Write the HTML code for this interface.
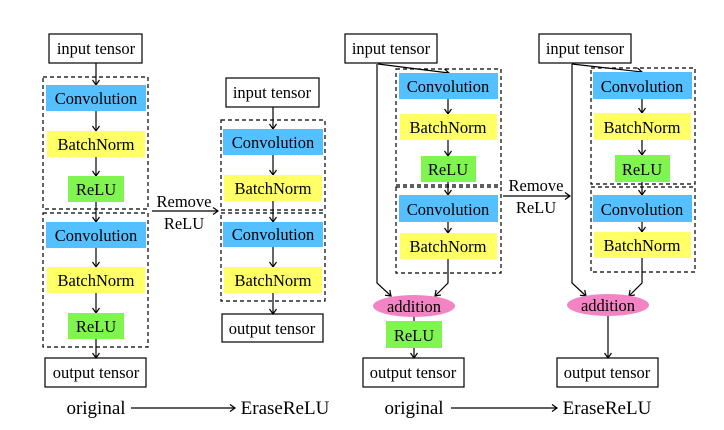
<!DOCTYPE html>
<html><head><style>html,body{margin:0;padding:0;background:#fff}svg{display:block}text{font-family:"Liberation Serif",serif;font-size:16.5px;fill:#000}</style></head>
<body>
<svg width="724" height="430" viewBox="0 0 724 430" xmlns="http://www.w3.org/2000/svg">
<defs>
<marker id="a" markerWidth="10" markerHeight="10" refX="8" refY="5" orient="auto" markerUnits="userSpaceOnUse">
<polyline points="3,1.5 8,5 3,8.5" fill="none" stroke="#000" stroke-width="1.2"/>
</marker>
</defs>
<g stroke="#000" stroke-width="1.2" fill="none">
<!-- panel 1 -->
<rect x="49" y="34" width="93" height="29" fill="#fff"/>
<rect x="43" y="77" width="105" height="132" stroke-dasharray="4,3"/>
<rect x="43" y="213" width="105" height="134" stroke-dasharray="4,3"/>
<rect x="45" y="358" width="101" height="29" fill="#fff"/>
<line x1="96" y1="63" x2="96" y2="85" marker-end="url(#a)"/>
<line x1="96" y1="111" x2="96" y2="131" marker-end="url(#a)"/>
<line x1="96" y1="157" x2="96" y2="176" marker-end="url(#a)"/>
<line x1="96" y1="202" x2="96" y2="222" marker-end="url(#a)"/>
<line x1="96" y1="248" x2="96" y2="267" marker-end="url(#a)"/>
<line x1="96" y1="293" x2="96" y2="313" marker-end="url(#a)"/>
<line x1="96" y1="339" x2="96" y2="358" marker-end="url(#a)"/>
<line x1="152" y1="211" x2="218" y2="211" marker-end="url(#a)"/>
<line x1="131" y1="408" x2="235" y2="408" marker-end="url(#a)"/>
<!-- panel 2 -->
<rect x="226" y="78" width="93" height="29"/>
<rect x="221" y="120" width="104" height="90" stroke-dasharray="4,3"/>
<rect x="221" y="213" width="104" height="88" stroke-dasharray="4,3"/>
<rect x="222" y="314" width="101" height="28"/>
<line x1="273" y1="107" x2="273" y2="129" marker-end="url(#a)"/>
<line x1="273" y1="155" x2="273" y2="175" marker-end="url(#a)"/>
<line x1="273" y1="201" x2="273" y2="222" marker-end="url(#a)"/>
<line x1="273" y1="247" x2="273" y2="267" marker-end="url(#a)"/>
<line x1="273" y1="293" x2="273" y2="314" marker-end="url(#a)"/>
<!-- panel 3 -->
<rect x="345" y="34" width="92" height="29"/>
<rect x="396" y="69" width="105" height="116" stroke-dasharray="4,3"/>
<rect x="396" y="187" width="105" height="86" stroke-dasharray="4,3"/>
<rect x="363" y="358" width="101" height="29"/>
<line x1="378" y1="64" x2="449" y2="73" marker-end="url(#a)"/>
<polyline points="377,64 377,283 391,296" marker-end="url(#a)"/>
<polyline points="448,259 448,283 435,296" marker-end="url(#a)"/>
<line x1="448" y1="99" x2="448" y2="114" marker-end="url(#a)"/>
<line x1="448" y1="140" x2="448" y2="156" marker-end="url(#a)"/>
<line x1="448" y1="182" x2="448" y2="195" marker-end="url(#a)"/>
<line x1="448" y1="222" x2="448" y2="233" marker-end="url(#a)"/>
<line x1="414" y1="317" x2="414" y2="321"/>
<line x1="414" y1="348" x2="414" y2="358" marker-end="url(#a)"/>
<line x1="503" y1="196" x2="570" y2="196" marker-end="url(#a)"/>
<line x1="451" y1="408" x2="557" y2="408" marker-end="url(#a)"/>
<!-- panel 4 -->
<rect x="539" y="34" width="92" height="29"/>
<rect x="591" y="68" width="104" height="116" stroke-dasharray="4,3"/>
<rect x="591" y="187" width="104" height="85" stroke-dasharray="4,3"/>
<rect x="557" y="358" width="101" height="29"/>
<line x1="572" y1="64" x2="642" y2="72" marker-end="url(#a)"/>
<polyline points="572,64 572,283 586,296" marker-end="url(#a)"/>
<polyline points="642,258 642,283 629,296" marker-end="url(#a)"/>
<line x1="642" y1="99" x2="642" y2="113" marker-end="url(#a)"/>
<line x1="642" y1="140" x2="642" y2="155" marker-end="url(#a)"/>
<line x1="642" y1="182" x2="642" y2="195" marker-end="url(#a)"/>
<line x1="642" y1="222" x2="642" y2="232" marker-end="url(#a)"/>
<line x1="608" y1="316" x2="608" y2="358" marker-end="url(#a)"/>
</g>
<g stroke="none">
<rect x="46" y="85" width="100" height="26" fill="#55C0FF"/>
<rect x="47" y="131" width="98" height="26" fill="#FFFF66"/>
<rect x="68" y="176" width="56" height="26" fill="#80F550"/>
<rect x="46" y="222" width="100" height="26" fill="#55C0FF"/>
<rect x="47" y="267" width="98" height="26" fill="#FFFF66"/>
<rect x="68" y="313" width="56" height="26" fill="#80F550"/>
<rect x="223" y="129" width="100" height="26" fill="#55C0FF"/>
<rect x="224" y="175" width="98" height="26" fill="#FFFF66"/>
<rect x="223" y="222" width="100" height="25" fill="#55C0FF"/>
<rect x="224" y="267" width="98" height="26" fill="#FFFF66"/>
<rect x="399" y="73" width="99" height="26" fill="#55C0FF"/>
<rect x="400" y="114" width="97" height="26" fill="#FFFF66"/>
<rect x="421" y="156" width="55" height="26" fill="#80F550"/>
<rect x="399" y="195" width="99" height="27" fill="#55C0FF"/>
<rect x="400" y="233" width="97" height="26" fill="#FFFF66"/>
<ellipse cx="414" cy="306" rx="41" ry="11" fill="#F384C4"/>
<rect x="386" y="321" width="56" height="27" fill="#80F550"/>
<rect x="593" y="72" width="99" height="27" fill="#55C0FF"/>
<rect x="594" y="113" width="97" height="27" fill="#FFFF66"/>
<rect x="615" y="155" width="55" height="27" fill="#80F550"/>
<rect x="593" y="195" width="99" height="27" fill="#55C0FF"/>
<rect x="594" y="232" width="97" height="26" fill="#FFFF66"/>
<ellipse cx="608" cy="305" rx="41" ry="11" fill="#F384C4"/>
</g>
<g text-anchor="middle">
<text x="96" y="54">input tensor</text>
<text x="96" y="104">Convolution</text>
<text x="96" y="150">BatchNorm</text>
<text x="96" y="195">ReLU</text>
<text x="96" y="241">Convolution</text>
<text x="96" y="286">BatchNorm</text>
<text x="96" y="332">ReLU</text>
<text x="96" y="378">output tensor</text>
<text x="184" y="207">Remove</text>
<text x="184" y="229">ReLU</text>
<text x="272" y="98">input tensor</text>
<text x="273" y="148">Convolution</text>
<text x="273" y="194">BatchNorm</text>
<text x="273" y="240">Convolution</text>
<text x="273" y="286">BatchNorm</text>
<text x="272" y="334">output tensor</text>
<text x="391" y="54">input tensor</text>
<text x="448" y="92">Convolution</text>
<text x="448" y="133">BatchNorm</text>
<text x="448" y="175">ReLU</text>
<text x="448" y="215">Convolution</text>
<text x="448" y="252">BatchNorm</text>
<text x="414" y="312">addition</text>
<text x="414" y="341">ReLU</text>
<text x="413" y="378">output tensor</text>
<text x="536" y="191">Remove</text>
<text x="536" y="213">ReLU</text>
<text x="585" y="54">input tensor</text>
<text x="642" y="92">Convolution</text>
<text x="642" y="133">BatchNorm</text>
<text x="642" y="175">ReLU</text>
<text x="642" y="215">Convolution</text>
<text x="642" y="251">BatchNorm</text>
<text x="608" y="311">addition</text>
<text x="607" y="378">output tensor</text>
<text x="96" y="414" style="font-size:19px">original</text>
<text x="285" y="414" style="font-size:19px">EraseReLU</text>
<text x="414" y="414" style="font-size:19px">original</text>
<text x="607" y="414" style="font-size:19px">EraseReLU</text>
</g>
</svg>
</body></html>
